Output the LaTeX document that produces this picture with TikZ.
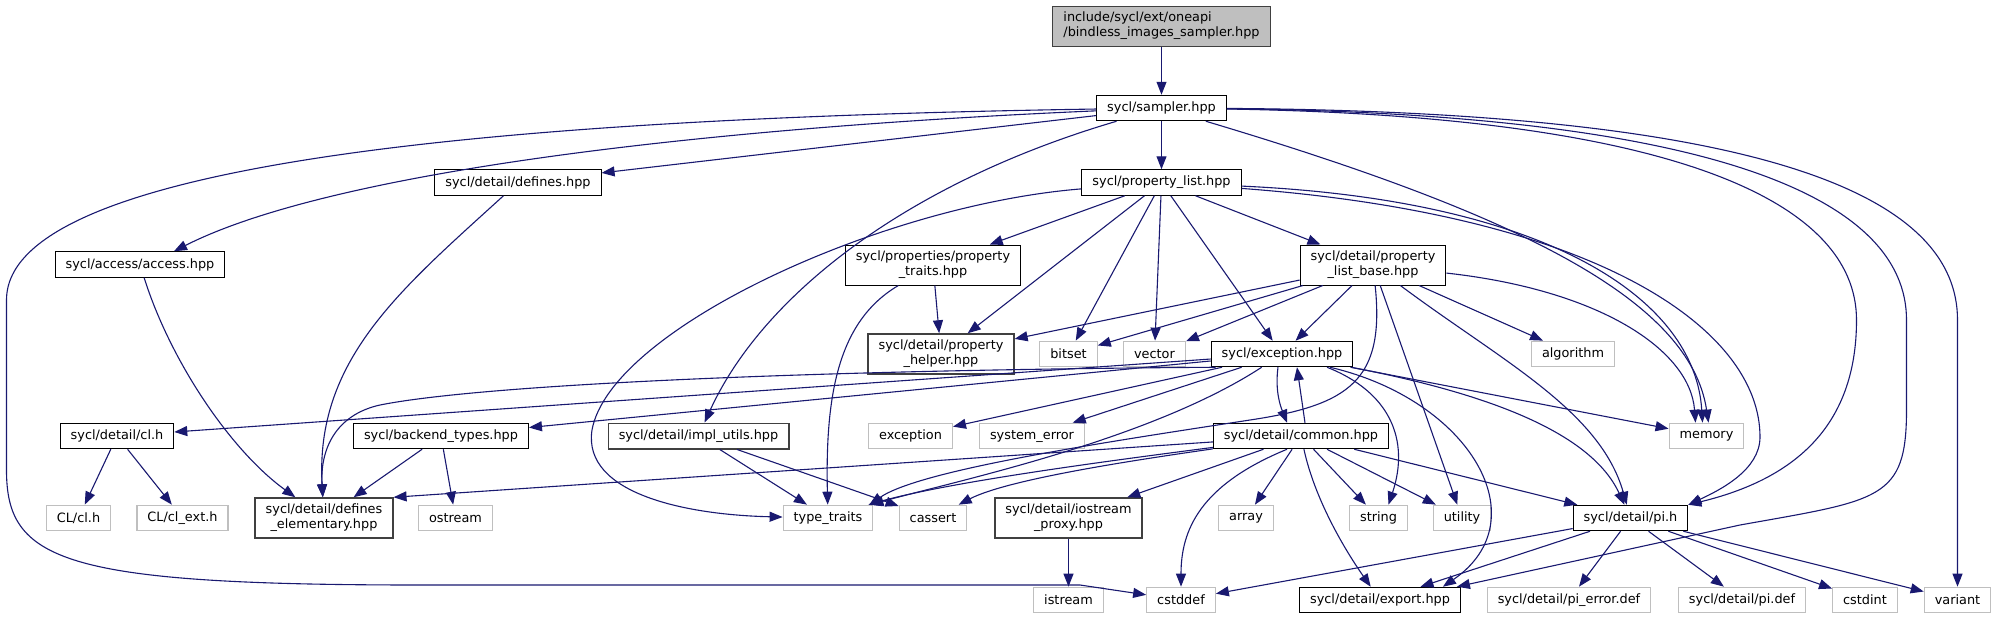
\documentclass[tikz,border=0pt]{standalone}
\usepackage{fontspec}
\setmainfont{DejaVu Sans}
\usetikzlibrary{arrows.meta}
\definecolor{dpblue}{HTML}{191970}
\definecolor{extgray}{HTML}{BFBFBF}
\definecolor{rootgray}{HTML}{BFBFBF}
\definecolor{dkgray}{HTML}{404040}
\tikzset{inc/.style={draw=black,line width=1pt,fill=white,inner xsep=10.5pt,inner ysep=1pt,minimum height=25.5pt,
    font=\fontsize{12.85}{15}\selectfont,align=center},
  incdk/.style={inc,draw=dkgray,line width=1.5pt},
  ext/.style={inc,draw=extgray,line width=1.2pt},
  two/.style={minimum height=40pt},
  dep/.style={draw=dpblue,line width=1.1pt,-{Triangle[length=13pt,width=10pt]}}}

\begin{document}
\begin{tikzpicture}[x=1pt,y=-1pt]
  \useasboundingbox (0,0) rectangle (1997,619);
  % headers
  \node[inc,two,fill=rootgray,draw=dkgray,align=left] (root) at (1161.5,26) {include/sycl/ext/oneapi\\/bindless\_images\_sampler.hpp};
  \node[inc] (samp) at (1161.5,108) {sycl/sampler.hpp};
  \node[inc] (plist) at (1161.5,182.5) {sycl/property\_list.hpp};
  \node[inc] (defs) at (518,182.5) {sycl/detail/defines.hpp};
  \node[inc] (acc) at (140,264.5) {sycl/access/access.hpp};
  \node[inc,two] (ptraits) at (933,265) {sycl/properties/property\\\_traits.hpp};
  \node[inc,two] (plbase) at (1373,265) {sycl/detail/property\\\_list\_base.hpp};
  \node[incdk,two] (phelp) at (941,354) {sycl/detail/property\\\_helper.hpp};
  \node[ext] (bitset) at (1068.5,354) {bitset};
  \node[ext] (vector) at (1154.5,354) {vector};
  \node[inc] (exc) at (1282,354) {sycl/exception.hpp};
  \node[ext] (algo) at (1573,354) {algorithm};
  \node[inc] (clh) at (117,436) {sycl/detail/cl.h};
  \node[inc] (btypes) at (441,436) {sycl/backend\_types.hpp};
  \node[incdk] (impl) at (698.5,436) {sycl/detail/impl\_utils.hpp};
  \node[ext] (stdexc) at (910.5,436) {exception};
  \node[ext] (syserr) at (1032,436) {system\_error};
  \node[inc] (common) at (1301,436) {sycl/detail/common.hpp};
  \node[ext] (memory) at (1706.5,436) {memory};
  \node[ext] (CLcl) at (78.5,518) {CL/cl.h};
  \node[ext] (CLext) at (182.5,518) {CL/cl\_ext.h};
  \node[incdk,two] (defel) at (324,518) {sycl/detail/defines\\\_elementary.hpp};
  \node[ext] (ostream) at (455.5,518) {ostream};
  \node[ext] (ttraits) at (828,518) {type\_traits};
  \node[ext] (cassert) at (933,518) {cassert};
  \node[incdk,two] (iosp) at (1068.5,518) {sycl/detail/iostream\\\_proxy.hpp};
  \node[ext] (array) at (1246,518) {array};
  \node[ext] (string) at (1378.5,518) {string};
  \node[ext] (utility) at (1462,518) {utility};
  \node[inc] (pih) at (1630.5,518) {sycl/detail/pi.h};
  \node[ext] (istream) at (1068.5,600) {istream};
  \node[ext] (cstddef) at (1181,600) {cstddef};
  \node[inc] (export) at (1380,600) {sycl/detail/export.hpp};
  \node[ext] (pierr) at (1569,600) {sycl/detail/pi\_error.def};
  \node[ext] (pidef) at (1742,600) {sycl/detail/pi.def};
  \node[ext] (cstdint) at (1865,600) {cstdint};
  \node[ext] (variant) at (1957.5,600) {variant};
  % sampler.hpp
  \draw[dep] (root) -- (samp);
  \draw[dep] (samp) -- (plist);
  \draw[dep] (samp) -- (defs);
  \draw[dep] (samp) .. controls (700,128) and (330,172) .. ([xshift=34pt]acc.north);
  \draw[dep] (samp) .. controls (520,118) and (6.5,160) .. (6.5,300) -- (6.5,470) .. controls (6.5,560) and (60,585) .. (420,585) -- (1080,585) -- (cstddef);
  \draw[dep] (samp) .. controls (900,185) and (760,300) .. (impl);
  \draw[dep] (samp) .. controls (1520,215) and (1690,300) .. ([xshift=2pt]memory.north);
  \draw[dep] (samp) .. controls (1670,116) and (1856.5,200) .. (1856.5,320) .. controls (1856.5,430) and (1790,480) .. (pih.north east);
  \draw[dep] (samp) .. controls (1720,114) and (1906.5,200) .. (1906.5,320) -- (1906.5,410) .. controls (1906.5,500) and (1880,500) .. (1740,525) -- ([xshift=-4pt]export.north east);
  \draw[dep] (samp) .. controls (1780,112) and (1957.5,200) .. (1957.5,320) -- (variant);
  \draw[dep] (defs) .. controls (400,290) and (315,360) .. (defel);
  \draw[dep] (acc) .. controls (170,360) and (230,450) .. (defel);
  % property_list.hpp
  \draw[dep] (plist) -- (ptraits); \draw[dep] (plist) -- (phelp); \draw[dep] (plist) -- (bitset);
  \draw[dep] (plist) -- (vector); \draw[dep] (plist) -- (exc); \draw[dep] (plist) -- (plbase);
  \draw[dep] (plist) .. controls (880,205) and (610,330) .. (592,430) .. controls (582,495) and (690,515) .. (ttraits);
  \draw[dep] (plist) .. controls (1550,200) and (1695,300) .. ([xshift=-4pt]memory.north);
  \draw[dep] (plist) .. controls (1600,215) and (1760,330) .. (1760,437) .. controls (1760,470) and (1720,490) .. (pih.north east);
  \draw[dep] (ptraits) -- (phelp);
  \draw[dep] (ptraits) .. controls (840,320) and (825,390) .. (ttraits);
  % property_list_base.hpp
  \draw[dep] (plbase) -- (phelp); \draw[dep] (plbase) -- (bitset); \draw[dep] (plbase) -- (vector);
  \draw[dep] (plbase) -- (exc); \draw[dep] (plbase) -- (algo); \draw[dep] (plbase) -- (utility);
  \draw[dep] (plbase) .. controls (1600,290) and (1690,350) .. ([xshift=-11pt]memory.north);
  \draw[dep] (plbase) .. controls (1500,360) and (1600,410) .. (pih);
  \draw[dep] (plbase) .. controls (1385,380) and (1350,405) .. (1250,420) .. controls (1100,443) and (920,470) .. ([xshift=-4pt]ttraits.north east);
  % exception.hpp
  \draw[dep] (exc) -- (clh); \draw[dep] (exc) -- (btypes); \draw[dep] (exc) -- (stdexc);
  \draw[dep] (exc) -- (syserr); \draw[dep] (exc) -- (memory);
  \draw[dep] ([xshift=5pt]exc.south west) .. controls (800,370) and (480,385) .. (380,405) .. controls (335,415) and (320,450) .. (defel);
  \draw[dep] (exc) .. controls (1150,440) and (960,480) .. ([xshift=-3pt]ttraits.north east);
  \draw[dep] ([xshift=-4pt]exc.south) .. controls (1275,390) and (1280,405) .. ([xshift=-14pt]common.north);
  \draw[dep] ([xshift=45pt]exc.south) .. controls (1390,392) and (1410,440) .. ([xshift=10pt]string.north);
  \draw[dep] (exc) .. controls (1480,392) and (1590,430) .. (pih);
  \draw[dep] ([xshift=48pt]exc.south) .. controls (1470,400) and (1540,520) .. ([xshift=-18pt]export.north east);
  % common.hpp
  \draw[dep] ([xshift=4pt]common.north) -- ([xshift=15pt]exc.south);
  \draw[dep] (common) -- (defel.north east);
  \draw[dep] (common) .. controls (1100,462) and (950,482) .. ([xshift=-5pt]ttraits.north east);
  \draw[dep] (common) .. controls (1150,458) and (1010,478) .. (cassert);
  \draw[dep] (common) -- (iosp); \draw[dep] (common) -- (array); \draw[dep] (common) -- (string);
  \draw[dep] (common) -- (utility); \draw[dep] (common) -- (pih);
  \draw[dep] ([xshift=-14pt]common.south) .. controls (1200,485) and (1181,530) .. (cstddef);
  \draw[dep] (common) .. controls (1315,500) and (1345,550) .. (export);
  % lower rows
  \draw[dep] (clh) -- (CLcl); \draw[dep] (clh) -- (CLext);
  \draw[dep] (btypes) -- (defel); \draw[dep] (btypes) -- (ostream);
  \draw[dep] (impl) -- (ttraits); \draw[dep] (impl) -- (cassert);
  \draw[dep] (iosp) -- (istream);
  \draw[dep] (pih) -- (cstddef); \draw[dep] (pih) -- (export); \draw[dep] (pih) -- (pierr);
  \draw[dep] (pih) -- (pidef); \draw[dep] (pih) -- (cstdint); \draw[dep] (pih) -- (variant);
\end{tikzpicture}
\end{document}
